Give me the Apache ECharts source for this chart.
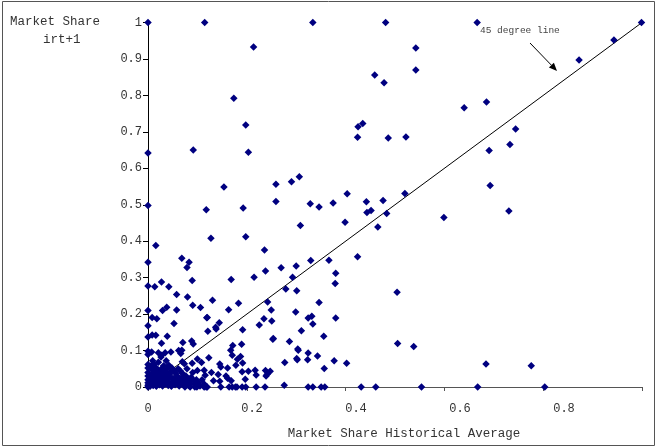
<!DOCTYPE html>
<html>
<head>
<meta charset="utf-8">
<script src="https://cdn.jsdelivr.net/npm/echarts@6.0.0/dist/echarts.min.js"></script>
<style>
  html, body { margin: 0; padding: 0; background: #fff; }
  #main { width: 657px; height: 447px; }
</style>
</head>
<body>
<div id="main"></div>
<script>
// market share: x = historical average, y = share at t+1
var topRow = [[0,1],[0.109,1],[0.317,1],[0.457,1],[0.633,1],[0.949,1]];

var upperPts = [[0.203,0.933],[0.515,0.930],[0.896,0.952],[0.829,0.897],[0.515,0.870],[0.436,0.856],
  [0.454,0.835],[0.165,0.792],[0.651,0.782],[0.608,0.766],[0.188,0.719],[0.404,0.714],[0.413,0.723],
  [0.707,0.708],[0.403,0.685],[0.462,0.683],[0.496,0.686],[0.696,0.665],[0.087,0.650],[0,0.642],
  [0.193,0.644],[0.656,0.649]];

var midPts = [[0.146,0.549],[0.246,0.556],[0.276,0.563],[0.291,0.577],[0.658,0.553],[0,0.498],
  [0.112,0.486],[0.183,0.491],[0.246,0.509],[0.312,0.503],[0.329,0.494],[0.356,0.505],[0.383,0.530],
  [0.494,0.531],[0.452,0.512],[0.421,0.479],[0.429,0.484],[0.420,0.508],[0.459,0.476],[0.569,0.465],
  [0.694,0.483],[0.293,0.443],[0.379,0.452],[0.442,0.439],[0.121,0.408],[0.188,0.412],[0.015,0.388],
  [0.224,0.376],[0.403,0.357],[0,0.342],[0.065,0.353],[0.079,0.342],[0.075,0.328],[0.313,0.347],
  [0.348,0.348],[0.951,0.331],[0.226,0.318],[0.256,0.327],[0.285,0.332],[0.361,0.312],[0.204,0.301],
  [0.160,0.295],[0.278,0.301]];

var lowPts = [[0.085,0.292],[0.360,0.284],[0.265,0.269],[0.286,0.264],[0.479,0.260],[0,0.277],
  [0.013,0.275],[0.026,0.288],[0.040,0.275],[0.055,0.254],[0.076,0.247],[0.124,0.238],[0.086,0.224],
  [0.101,0.218],[0.036,0.219],[0.028,0.210],[0.055,0.211],[0,0.210],[0.008,0.191],[0.017,0.187],
  [0.114,0.191],[0.155,0.212],[0.174,0.230],[0.230,0.233],[0.329,0.232],[0.237,0.211],[0.284,0.206],
  [0.223,0.187],[0.214,0.170],[0.238,0.181],[0.308,0.189],[0.317,0.173],[0.361,0.189],[0.295,0.154],
  [0.182,0.157],[0.338,0.139],[0.240,0.131],[0.272,0.125],[0.180,0.117],[0.288,0.104],[0.480,0.119],
  [0.511,0.111],[0,0.168],[0.050,0.174],[0.015,0.142],[0.037,0.139],[0.026,0.120],[0.067,0.122],
  [0.084,0.126],[0.113,0.190],[0.115,0.153],[0.130,0.164],[0.137,0.176],[0.131,0.159],[0,0.137],
  [0.008,0.143],[0.159,0.101],[0.163,0.114],[0.087,0.118],[0.065,0.101],[0.315,0.194],[0.241,0.133]];

var bottomPts = [[0.308,0.093],[0.326,0.085],[0.287,0.075],[0.358,0.072],[0.382,0.065],[0.263,0.067],
  [0.178,0.084],[0.339,0.051],[0.226,0.045],[0.235,0.043],[0.229,0.034],[0.208,0.033],[0.262,0.005],
  [0.650,0.063],[0.737,0.058],[0,0.098],[0,0.089],[0.007,0.096],[0.020,0.094],[0.026,0.087],
  [0.033,0.094],[0.044,0.096],[0.059,0.100],[0.063,0.092],[0.066,0.069],[0.085,0.065],[0.095,0.077],
  [0.103,0.067],[0.117,0.080],[0.095,0.045],[0.110,0.032],[0.122,0.040],[0.135,0.034],[0.138,0.063],
  [0.153,0.052],[0.162,0.087],[0.172,0.076],[0.182,0.066],[0.160,0.017],[0.150,0.030],[0.126,0.017],
  [0.025,0.082],[0.070,0.064],[0.108,0.046],[0.140,0.055],[0.138,0.016],[0.153,0.024],[0.169,0.060],
  [0.187,0.021],[0.193,0.043],[0.181,0.042],[0.206,0.046],[0.227,0.030],[0.289,0.101],[0.307,0.075],
  [0.286,0.078]];

// the dense blob near the origin
var clusterPts = [[0,0.005],[0,0.012],[0,0.02],[0,0.03],[0,0.04],[0,0.052],[0,0.062],
  [0.004,0.002],[0.005,0.01],[0.006,0.022],[0.007,0.035],[0.008,0.047],[0.006,0.058],
  [0.01,0.004],[0.011,0.015],[0.012,0.028],[0.013,0.04],[0.014,0.055],
  [0.016,0.002],[0.017,0.009],[0.018,0.02],[0.019,0.033],[0.02,0.046],
  [0.022,0.006],[0.023,0.014],[0.024,0.026],[0.025,0.037],[0.026,0.05],
  [0.028,0.003],[0.029,0.018],[0.03,0.03],[0.031,0.042],
  [0.033,0.008],[0.034,0.022],[0.036,0.035],[0.037,0.05],
  [0.039,0.004],[0.04,0.014],[0.042,0.027],[0.043,0.04],
  [0.045,0.002],[0.047,0.012],[0.048,0.024],[0.05,0.045],
  [0.052,0.006],[0.054,0.018],[0.056,0.03],[0.058,0.05],
  [0.06,0.003],[0.062,0.012],[0.064,0.025],[0.066,0.038],
  [0.068,0.006],[0.07,0.017],[0.073,0.03],[0.075,0.05],
  [0.078,0.004],[0.08,0.015],[0.083,0.027],[0.086,0.04],
  [0.09,0.008],[0.093,0.02],[0.097,0.012],[0.1,0.003],[0.104,0.02],[0.108,0.008],
  [0.003,0.016],[0.009,0.025],[0.015,0.012],[0.021,0.024],[0.027,0.01],[0.032,0.016],
  [0.038,0.021],[0.044,0.008],[0.05,0.016],[0.055,0.01],[0.061,0.02],[0.067,0.013],
  [0.072,0.009],[0.076,0.022],[0.082,0.008],[0.088,0.018],[0.095,0.004],[0.012,0.062],
  [0.02,0.068],[0.03,0.058],[0.04,0.06],[0.046,0.052],[0.009,0.072],[0.035,0.072],
  [0.017,0.038],[0.028,0.044],[0.041,0.034],[0.053,0.038],[0.062,0.044],[0.069,0.028]];

var zeroRow = [[0,0],[0.071,0],[0.081,0],[0.090,0],[0.094,0],[0.108,0],[0.112,0],[0.114,0],
  [0.140,0],[0.156,0],[0.162,0],[0.168,0],[0.171,0],[0.181,0],[0.188,0],[0.208,0],[0.225,0],
  [0.308,0],[0.317,0],[0.333,0],[0.340,0],[0.410,0],[0.438,0],[0.526,0],[0.634,0],[0.763,0],[0.951,0]];

// drawn corner to corner of the plot
var diagLine = [[0,0],[0.95,1]];

var xMax = 0.95;
var monoFont = '"Liberation Mono", "DejaVu Sans Mono", monospace';

var allPts = [].concat(topRow, upperPts, midPts, lowPts, bottomPts, clusterPts, zeroRow);

var chart = echarts.init(document.getElementById('main'));
chart.setOption({
  animation: false,
  backgroundColor: '#fff',
  grid: { left: 148, right: 15, top: 22.5, bottom: 60 },
  xAxis: [{
    type: 'value', min: 0, max: xMax, interval: 0.2,
    axisLine: { show: true, lineStyle: { color: '#555', width: 1 } },
    axisTick: { show: false },
    splitLine: { show: false },
    axisLabel: { showMaxLabel: false, margin: 16, fontFamily: monoFont, fontSize: 12, color: '#333' },
    name: 'Market Share Historical Average',
    nameLocation: 'middle',
    nameGap: 40,
    nameTextStyle: { fontFamily: monoFont, fontSize: 12.5, color: '#333', padding: [0, 0, 0, 18] }
  }, {
    // Excel put the tick marks on a different step than the labels
    type: 'value', min: 0, max: xMax, interval: 0.19, position: 'bottom',
    axisLine: { show: false },
    axisTick: { show: true, length: 4, lineStyle: { color: '#555' } },
    axisLabel: { show: false },
    splitLine: { show: false }
  }],
  yAxis: {
    type: 'value', min: 0, max: 1, interval: 0.1,
    axisLine: { show: true, lineStyle: { color: '#000', width: 1 } },
    axisTick: { show: true, length: 5, lineStyle: { color: '#000' } },
    splitLine: { show: false },
    axisLabel: { margin: 6, fontFamily: monoFont, fontSize: 12, color: '#333' }
  },
  series: [{
    type: 'line',
    data: diagLine,
    symbol: 'none',
    lineStyle: { color: '#000', width: 1 },
    z: 1
  }, {
    type: 'scatter',
    data: allPts,
    symbol: 'diamond',
    symbolSize: 7.5,
    itemStyle: { color: '#000080', opacity: 1 },
    z: 2
  }],
  graphic: [
    { type: 'rect', shape: { x: 2.5, y: 1.5, width: 652, height: 444 },
      style: { fill: null, stroke: '#555', lineWidth: 1 }, z: 100 },
    { type: 'text', left: 10, top: 15,
      style: { text: 'Market Share', font: '12.5px ' + monoFont, fill: '#333' }, z: 100 },
    { type: 'text', left: 43, top: 33,
      style: { text: 'irt+1', font: '12.5px ' + monoFont, fill: '#333' }, z: 100 },
    { type: 'text', left: 480, top: 25,
      style: { text: '45 degree line', font: '9.5px ' + monoFont, fill: '#444' }, z: 100 },
    { type: 'line', shape: { x1: 530, y1: 43, x2: 551.4, y2: 65.2 },
      style: { stroke: '#000', lineWidth: 1 }, z: 100 },
    { type: 'polygon', shape: { points: [[557, 71], [548.9, 67.6], [553.9, 62.8]] },
      style: { fill: '#000' }, z: 100 }
  ]
});
</script>
</body>
</html>
